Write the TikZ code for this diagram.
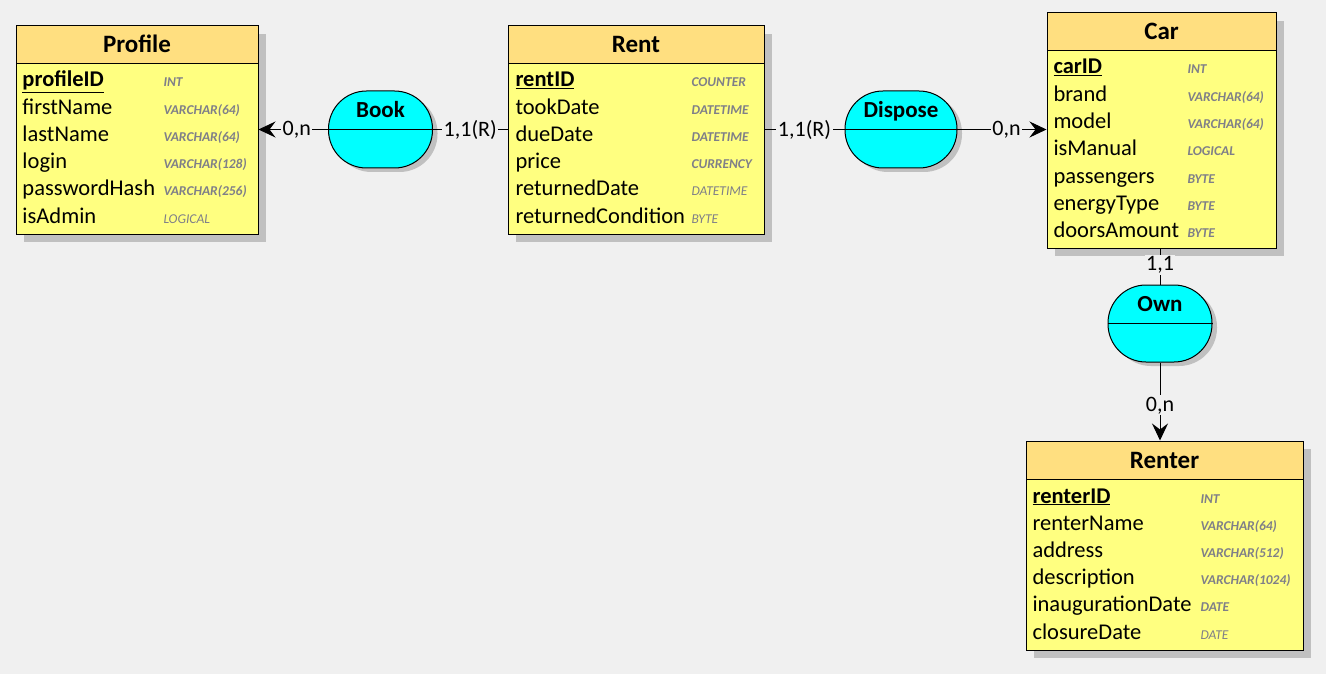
\documentclass[tikz,border=0pt]{standalone}
\usepackage{fontspec}
\setmainfont{Carlito}
\usetikzlibrary{arrows.meta,shadows}
\definecolor{bgcol}{HTML}{F0F0F0}
\definecolor{headcol}{HTML}{FFDF80}
\definecolor{bodycol}{HTML}{FFFF80}
\definecolor{relcol}{HTML}{00FFFF}
\definecolor{typecol}{HTML}{7F7F88}
\definecolor{shadecol}{HTML}{C0C0C0}

\begin{document}
\begin{tikzpicture}
		[x=1pt, y=-1pt, line width=1pt,
		tablebox/.style={draw, fill=bodycol, inner sep=0pt,
			drop shadow={shadow xshift=8pt, shadow yshift=-8pt, fill=shadecol, opacity=1}},
		headbox/.style={draw, fill=headcol, inner sep=0pt, minimum height=38, anchor=north},
		relbox/.style={draw, fill=relcol, rounded corners=38pt, inner sep=0pt,
			minimum width=104, minimum height=77,
			drop shadow={shadow xshift=5pt, shadow yshift=-4pt, fill=shadecol, opacity=1}},
		titletext/.style={anchor=base, inner sep=0pt, font=\fontsize{25}{29}\selectfont\bfseries},
		reltext/.style={anchor=base, inner sep=0pt, font=\fontsize{23}{27}\selectfont\bfseries},
		fieldtext/.style={anchor=base west, inner sep=0pt, font=\fontsize{22.5}{27}\selectfont},
		typebold/.style={anchor=base west, inner sep=0pt, text=typecol, font=\fontsize{13.5}{16}\selectfont\bfseries\itshape},
		typelight/.style={anchor=base west, inner sep=0pt, text=typecol, font=\fontsize{13.5}{16}\selectfont\itshape},
		card/.style={fill=bgcol, inner sep=1.5pt, font=\fontsize{22}{26}\selectfont},
		conn/.style={-{Stealth[length=17pt, width=16pt, inset=6pt]}}]
		\fill[bgcol] (0,0) rectangle (1326,674);
		\useasboundingbox (0,0) rectangle (1326,674);
		
		% Profile
		\node[tablebox, minimum width=242, minimum height=208] (profile) at (137,130) {};
		\node[headbox, minimum width=242] (profilehead) at (profile.north) {};
		\node[titletext] at (137,53) {Profile};
		\node[fieldtext, font=\fontsize{22.5}{27}\selectfont\bfseries] at (22,87) {\underline{profileID}};
		\node[typebold] at (163,87) {INT};
		\foreach \n/\t/\s [count=\i] in {firstName/VARCHAR(64)/typebold, lastName/VARCHAR(64)/typebold,
			login/VARCHAR(128)/typebold, passwordHash/VARCHAR(256)/typebold, isAdmin/LOGICAL/typelight}
		{
			\node[fieldtext] at (22,87+27.2*\i) {\n};
			\node[\s] at (163,87+27.2*\i) {\t};
		}
		
		% Rent
		\node[tablebox, minimum width=256, minimum height=208] (rent) at (636,130) {};
		\node[headbox, minimum width=256] (renthead) at (rent.north) {};
		\node[titletext] at (636,53) {Rent};
		\node[fieldtext, font=\fontsize{22.5}{27}\selectfont\bfseries] at (515,87) {\underline{rentID}};
		\node[typebold] at (691,87) {COUNTER};
		\foreach \n/\t/\s [count=\i] in {tookDate/DATETIME/typebold, dueDate/DATETIME/typebold,
			price/CURRENCY/typebold, returnedDate/DATETIME/typelight, returnedCondition/BYTE/typelight}
		{
			\node[fieldtext] at (515,87+27.2*\i) {\n};
			\node[\s] at (691,87+27.2*\i) {\t};
		}
		
		% Car
		\node[tablebox, minimum width=229, minimum height=235] (car) at (1161.5,130.5) {};
		\node[headbox, minimum width=229] (carhead) at (car.north) {};
		\node[titletext] at (1161.5,40) {Car};
		\node[fieldtext, font=\fontsize{22.5}{27}\selectfont\bfseries] at (1053,74) {\underline{carID}};
		\node[typebold] at (1187,74) {INT};
		\foreach \n/\t/\s [count=\i] in {brand/VARCHAR(64)/typebold, model/VARCHAR(64)/typebold,
			isManual/LOGICAL/typebold, passengers/BYTE/typebold, energyType/BYTE/typebold,
			doorsAmount/BYTE/typebold}
		{
			\node[fieldtext] at (1053,74+27.3*\i) {\n};
			\node[\s] at (1187,74+27.3*\i) {\t};
		}
		
		% Renter
		\node[tablebox, minimum width=277, minimum height=209] (renter) at (1164.5,545.5) {};
		\node[headbox, minimum width=277] (renterhead) at (renter.north) {};
		\node[titletext] at (1164.5,468) {Renter};
		\node[fieldtext, font=\fontsize{22.5}{27}\selectfont\bfseries] at (1032,503) {\underline{renterID}};
		\node[typebold] at (1200,503) {INT};
		\foreach \n/\t/\s [count=\i] in {renterName/VARCHAR(64)/typebold, address/VARCHAR(512)/typebold,
			description/VARCHAR(1024)/typebold, inaugurationDate/DATE/typebold, closureDate/DATE/typelight}
		{
			\node[fieldtext] at (1032,503+27.2*\i) {\n};
			\node[\s] at (1200,503+27.2*\i) {\t};
		}
		
		% relations
		\node[relbox] (book) at (380.5,129.5) {};
		\node[relbox, minimum width=112] (dispose) at (901,129.5) {};
		\node[relbox] (own) at (1160,323.5) {};
		\draw (book.west) -- (book.east);
		\draw (dispose.west) -- (dispose.east);
		\draw (own.west) -- (own.east);
		\node[reltext] at ([yshift=-27pt]book.north) {Book};
		\node[reltext] at ([yshift=-27pt]dispose.north) {Dispose};
		\node[reltext] at ([yshift=-27pt]own.north) {Own};
		
		\draw[conn] (book) -- node[card, pos=0.45]{0,n} (profile.east |- book);
		\draw (book) -- node[card]{1,1(R)} (rent.west |- book);
		\draw (dispose) -- node[card]{1,1(R)} (rent.east |- dispose);
		\draw[conn] (dispose) -- node[card, pos=0.55]{0,n} (car.west |- dispose);
		\draw (own) -- node[card, pos=0.55]{1,1} (own |- car.south);
		\draw[conn] (own) -- node[card, pos=0.55]{0,n} (own |- renter.north);
\end{tikzpicture}
\end{document}
